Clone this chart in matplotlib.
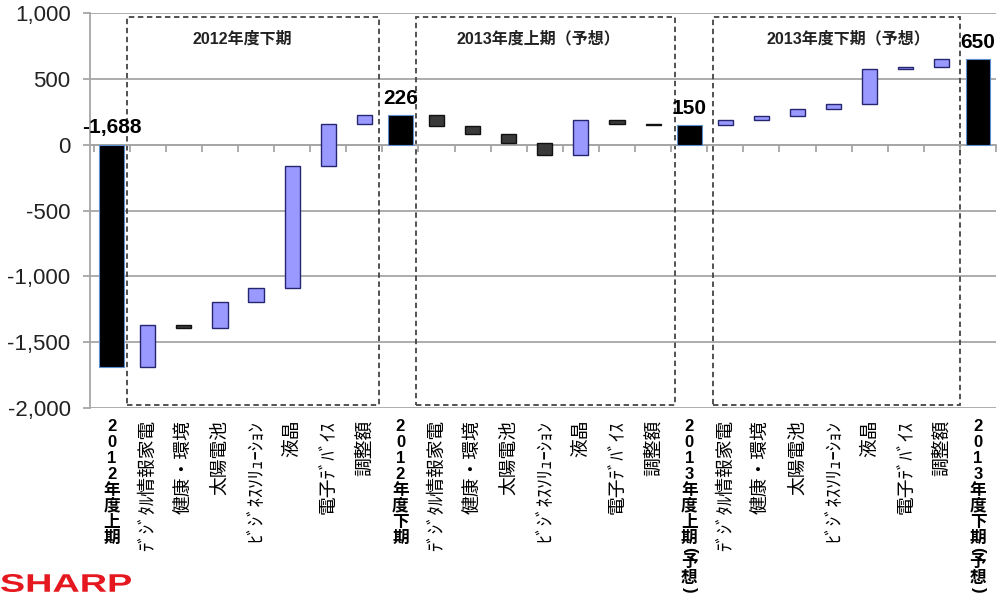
import numpy as np
import matplotlib
matplotlib.use("Agg")
import matplotlib.pyplot as plt
from matplotlib.patches import Rectangle, PathPatch
from matplotlib.textpath import TextPath
from matplotlib.font_manager import FontProperties
import matplotlib.transforms as mtransforms

plt.rcParams['font.family'] = ['Liberation Sans', 'Noto Sans CJK JP']

# period totals (億円)
periods = ['2012年度上期', '2012年度下期', '2013年度上期(予想)', '2013年度下期(予想)']
period_totals = [-1688, 226, 150, 650]

# segment contributions between periods
segments = ['ﾃﾞｼﾞﾀﾙ情報家電', '健康・環境', '太陽電池', 'ﾋﾞｼﾞﾈｽｿﾘｭｰｼｮﾝ', '液晶', '電子ﾃﾞﾊﾞｲｽ', '調整額']
delta_12h2 = [318, -20, 195, 110, 920, 320, 71]
delta_13h1 = [-82, -60, -74, -86, 266, -36, -4]
delta_13h2 = [40, 25, 55, 40, 265, 15, 60]

box_titles = ['2012年度下期', '2013年度上期（予想）', '2013年度下期（予想）']

TOTAL_W = 0.69
STEP_W = 0.42
UP = '#9999ff'
DOWN = '#3a3a3a'

fig = plt.figure(figsize=(9.97, 5.96), dpi=100)
ax = fig.add_axes([0.0903, 0.3154, 0.9087, 0.6628])

ax.set_ylim(-2000, 1000)
ax.set_xlim(-0.6, 24.5)

# grid & axes styling
yt = np.arange(-2000, 1001, 500)
ax.set_yticks(yt)
ax.set_yticklabels([f'{v:,}' for v in yt], fontsize=16, color='#222222')
ax.yaxis.grid(True, color='#a6a6a6', lw=1.3)
ax.set_axisbelow(True)
for s in ['top', 'right']:
    ax.spines[s].set_visible(False)
ax.spines['left'].set_color('#a6a6a6')
ax.spines['left'].set_linewidth(1.3)
ax.spines['bottom'].set_position(('data', 0))
ax.spines['bottom'].set_color('#a6a6a6')
ax.spines['bottom'].set_linewidth(1.3)
ax.tick_params(axis='y', length=5, color='#a6a6a6', width=1.3, pad=9)
ax.set_xticks(np.arange(-0.5, 25, 1))
ax.set_xticklabels([])
ax.tick_params(axis='x', length=5, color='#a6a6a6', width=1.3, direction='out')

lab_trans = mtransforms.blended_transform_factory(ax.transData, ax.transAxes)


def stacked(xc, s):
    # upright characters stacked top to bottom under the axis
    off = 18
    prev = None
    for ch in s:
        h = 8 if ch in '()' else 16
        if prev is not None:
            off += (prev + h) / 2
        tr = lab_trans + mtransforms.ScaledTranslation(0, -off / 100, fig.dpi_scale_trans)
        ax.text(xc, 0, ch, transform=tr, ha='center', va='center',
                rotation=-90 if ch in '()' else 0,
                fontsize=12, fontweight='bold')
        prev = h


x = 0
running = period_totals[0]
deltas = [delta_12h2, delta_13h1, delta_13h2]
for p, total in enumerate(period_totals):
    # period total bar
    ax.bar(x, total, width=TOTAL_W, color='black', edgecolor='#5b8fd0', lw=0.8, zorder=3)
    ax.text(x, max(total, 0) + 55, f'{total:,}', ha='center', va='bottom',
            fontsize=15, fontweight='bold', zorder=4)
    stacked(x, periods[p])
    running = total
    x += 1
    if p == len(period_totals) - 1:
        break
    for name, d in zip(segments, deltas[p]):
        if d >= 0:
            ax.bar(x, d, bottom=running, width=STEP_W, color=UP, edgecolor='#262670',
                   lw=1.0, zorder=3)
        else:
            ax.bar(x, d, bottom=running, width=STEP_W, color=DOWN, edgecolor='#111111',
                   lw=1.0, zorder=3)
        running += d
        ax.text(x, -0.03, name, transform=lab_trans, rotation=90, ha='center', va='top',
                fontsize=13.5, family=['Noto Sans CJK JP'])
        x += 1

# dashed group boxes
boxes = [(0.43, 7.41), (8.44, 15.62), (16.67, 23.49)]
title_x = [3.63, 11.82, 20.4]
for (x0, x1), t, tx in zip(boxes, box_titles, title_x):
    ax.add_patch(Rectangle((x0, -1978), x1 - x0, 966 + 1978, fill=False,
                           ls=(0, (3, 2)), lw=1.3, edgecolor='#444444', zorder=2,
                           clip_on=False))
    ax.text(tx, 806, t, ha='center', va='center', fontsize=11.5, fontweight='bold',
            color='#222222')

# red logo, stretched wide
tp = TextPath((0, 0), 'SHARP', size=20,
              prop=FontProperties(family='Liberation Sans', weight='bold'))
ext = tp.get_extents()
sx = 130 / ext.width
sy = 18 / ext.height
logo = PathPatch(tp, transform=mtransforms.Affine2D().translate(-ext.x0, -ext.y0)
                 .scale(sx, sy).translate(1, 596 - 592), color='#e5171f', lw=0)
fig.add_artist(logo)

fig.savefig('out.png', dpi=100)
